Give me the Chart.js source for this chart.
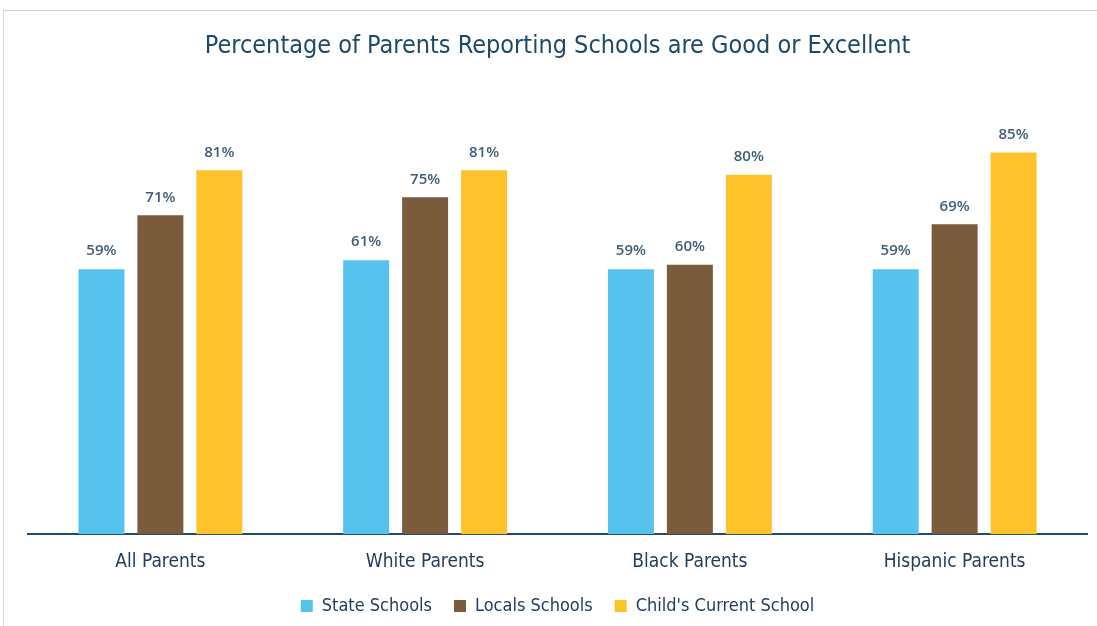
<!DOCTYPE html>
<html>
<head>
<meta charset="utf-8">
<script src="https://cdn.jsdelivr.net/npm/chart.js@4.4.1/dist/chart.umd.min.js"></script>
<style>
  html, body { margin: 0; padding: 0; background: #ffffff; }
  #wrap { position: relative; width: 1097px; height: 626px; }
  #frame {
    position: absolute; left: 3px; top: 10px; right: 0; bottom: 0;
    border-top: 1px solid #cfcfcf; border-left: 1px solid #d8d8d8;
  }
  canvas { position: absolute; left: 0; top: 0; }
</style>
</head>
<body>
<div id="wrap">
  <div id="frame"></div>
  <canvas id="chart" width="1097" height="626"></canvas>
</div>
<script>
const CATEGORIES = ["All Parents", "White Parents", "Black Parents", "Hispanic Parents"];
const STATE_SCHOOLS = [59, 61, 59, 59];
const LOCAL_SCHOOLS = [71, 75, 60, 69];
const CURRENT_SCHOOL = [81, 81, 80, 85];
const SERIES_NAMES = ["State Schools", "Locals Schools", "Child's Current School"];
const SERIES_COLORS = ["#55c3ee", "#7a5b3c", "#fec22b"];

const NARROW = "'Liberation Sans Narrow', 'DejaVu Sans Condensed', sans-serif";
const LEGEND_GAP = 22;

// writes the percentage above each bar
const valueLabels = {
  id: "valueLabels",
  afterDatasetsDraw(chart) {
    const ctx = chart.ctx;
    ctx.save();
    ctx.font = "600 15px 'Open Sans', sans-serif";
    ctx.fillStyle = "#3e5e7a";
    ctx.textAlign = "center";
    ctx.textBaseline = "middle";
    chart.data.datasets.forEach((ds, i) => {
      chart.getDatasetMeta(i).data.forEach((bar, j) => {
        ctx.fillText(`${ds.data[j]}%`, bar.x, bar.y - 18);
      });
    });
    ctx.restore();
  },
};

const datasets = [STATE_SCHOOLS, LOCAL_SCHOOLS, CURRENT_SCHOOL].map((data, i) => ({
  label: SERIES_NAMES[i],
  data,
  backgroundColor: SERIES_COLORS[i],
  borderWidth: 0,
  categoryPercentage: 0.668,
  barPercentage: 0.78,
}));

new Chart(document.getElementById("chart"), {
  type: "bar",
  data: { labels: CATEGORIES, datasets },
  options: {
    responsive: false,
    animation: false,
    layout: { padding: { left: 28, right: 10, top: 0, bottom: 1 } },
    scales: {
      x: {
        grid: { display: false, drawTicks: false },
        border: { display: true, color: "#1e4d6b", width: 2 },
        ticks: {
          padding: 16,
          color: "#203f5c",
          font: { family: NARROW, size: 19 },
        },
        // the wider legend spacing also grows the legend box; give that back here
        afterFit(scale) {
          scale.height -= LEGEND_GAP - 8;
        },
      },
      y: {
        display: false,
        min: 0,
        max: 100,
      },
    },
    plugins: {
      title: {
        display: true,
        text: "Percentage of Parents Reporting Schools are Good or Excellent",
        color: "#1d4a6a",
        font: { family: NARROW, size: 25, weight: "normal" },
        padding: { top: 31, bottom: 24 },
      },
      legend: {
        position: "bottom",
        labels: {
          boxWidth: 12,
          boxHeight: 12,
          padding: LEGEND_GAP,
          color: "#203f5c",
          font: { family: NARROW, size: 18 },
        },
      },
      tooltip: { enabled: false },
    },
  },
  plugins: [valueLabels],
});
</script>
</body>
</html>
